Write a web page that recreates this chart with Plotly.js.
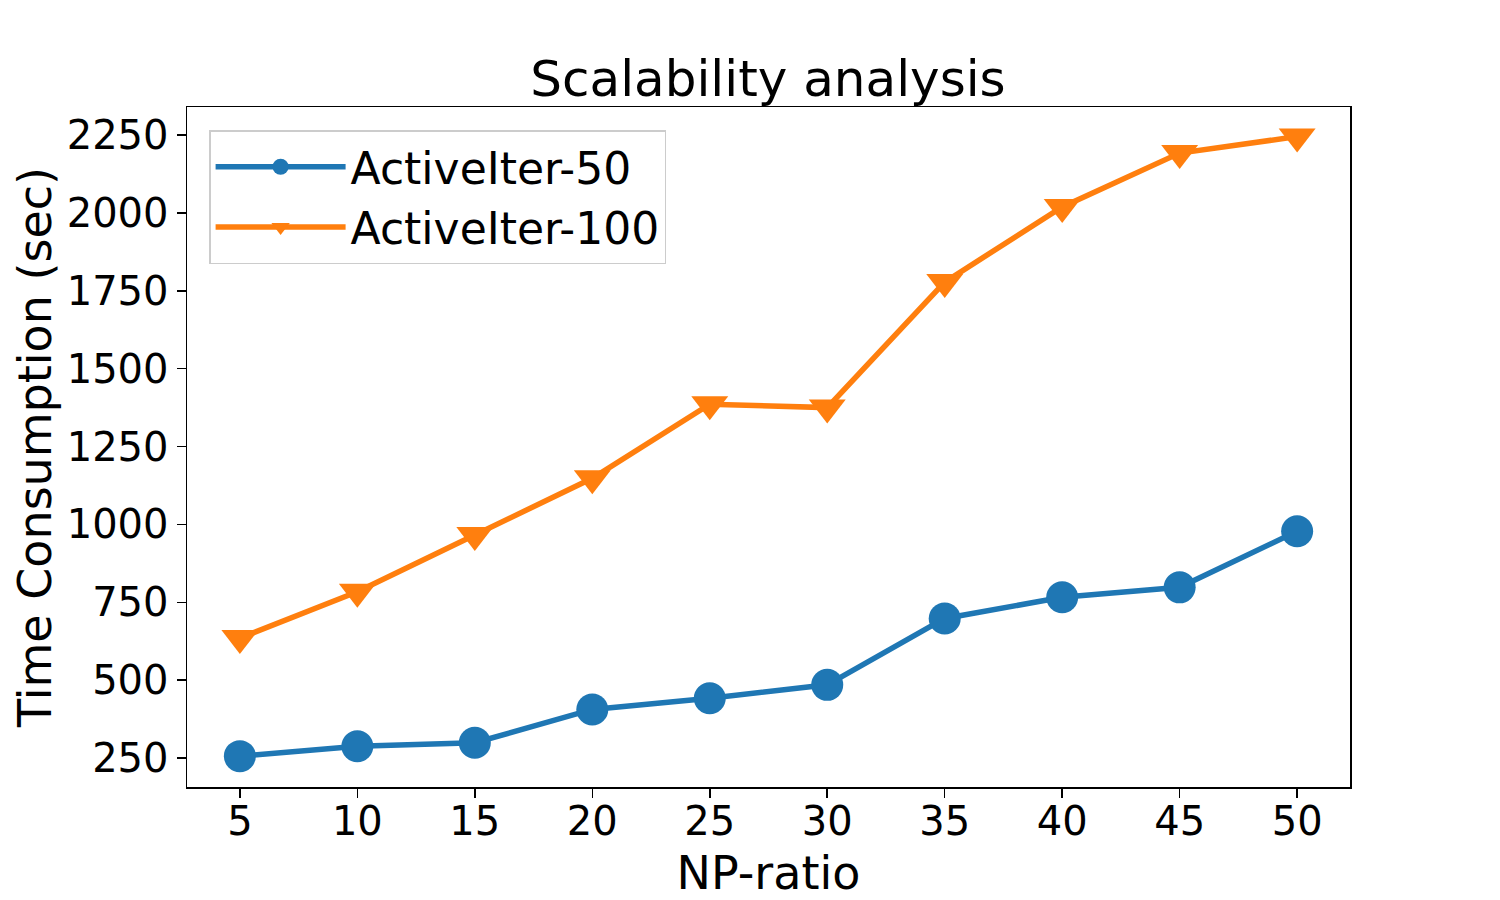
<!DOCTYPE html>
<html>
<head>
<meta charset="utf-8">
<script src="https://cdn.plot.ly/plotly-3.0.1.min.js"></script>
<style>html,body{margin:0;padding:0;background:#fff}#chart{width:1500px;height:900px}</style>
</head>
<body>
<div id="chart"></div>
<script>
const npRatio = [5, 10, 15, 20, 25, 30, 35, 40, 45, 50];
const activeIter50 = [256, 288, 299, 406, 442, 485, 698, 766, 798, 978];
const activeIter100 = [635, 784, 966, 1148, 1386, 1375, 1778, 2019, 2192, 2245];
const yTicks = [250, 500, 750, 1000, 1250, 1500, 1750, 2000, 2250];

const font = "DejaVu Sans, Liberation Sans, sans-serif";

const traces = [
  {
    x: npRatio, y: activeIter50, name: "ActiveIter-50", mode: "lines+markers",
    line: {color: "#1f77b4", width: 5.5},
    marker: {symbol: "circle", size: 32, color: "#1f77b4"}
  },
  {
    x: npRatio, y: activeIter100, name: "ActiveIter-100", mode: "lines+markers",
    line: {color: "#ff7f0e", width: 5.5},
    marker: {symbol: "triangle-down", size: 32, color: "#ff7f0e"}
  }
];

const layout = {
  width: 1500, height: 900,
  paper_bgcolor: "#fff", plot_bgcolor: "#fff",
  margin: {l: 187, r: 150, t: 107, b: 113},
  font: {family: font, color: "#000", size: 40},
  title: {text: "Scalability analysis", font: {family: font, size: 50, color: "#000"}, x: 0.512, xanchor: "center", y: 0.913, yanchor: "middle"},
  xaxis: {
    range: [2.75, 52.25], tickvals: npRatio, ticks: "outside", ticklen: 9, tickwidth: 1.5, tickcolor: "#000",
    showline: true, linecolor: "#000", linewidth: 1.5, mirror: true, showgrid: false, zeroline: false,
    ticklabelstandoff: -11,
    tickfont: {size: 40}, title: {text: "NP-ratio", font: {size: 46}, standoff: 16}
  },
  yaxis: {
    range: [157, 2340], tickvals: yTicks, ticks: "outside", ticklen: 9, tickwidth: 1.5, tickcolor: "#000",
    showline: true, linecolor: "#000", linewidth: 1.5, mirror: true, showgrid: false, zeroline: false,
    tickfont: {size: 40}, title: {text: "Time Consumption (sec)", font: {size: 46}, standoff: 0}
  },
  legend: {
    x: 0.019, y: 0.966, xanchor: "left", yanchor: "top",
    bgcolor: "rgba(255,255,255,0.8)", bordercolor: "#cccccc", borderwidth: 1.5,
    font: {size: 44}, itemwidth: 130, tracegroupgap: 0
  },
  showlegend: true
};

Plotly.newPlot("chart", traces, layout, {displayModeBar: false, staticPlot: true});
</script>
</body>
</html>
